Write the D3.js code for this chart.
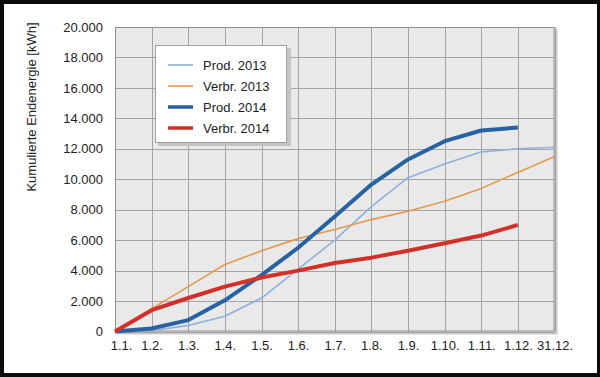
<!DOCTYPE html>
<html><head><meta charset="utf-8">
<script src="https://cdn.jsdelivr.net/npm/d3@7"></script>
<style>html,body{margin:0;padding:0;background:#000;}svg{display:block;}</style>
</head><body><svg id="c" width="600" height="377"></svg>
<script>
const categories = ["1.1.","1.2.","1.3.","1.4.","1.5.","1.6.","1.7.","1.8.","1.9.","1.10.","1.11.","1.12.","31.12."];
const prod2013  = [0, 50, 400, 1000, 2200, 4100, 6000, 8200, 10100, 11000, 11800, 12000, 12100];
const verbr2013 = [0, 1500, 2950, 4400, 5300, 6100, 6700, 7350, 7900, 8550, 9400, 10450, 11500];
const prod2014  = [0, 200, 750, 2050, 3700, 5500, 7550, 9650, 11300, 12500, 13200, 13400];
const verbr2014 = [0, 1400, 2200, 2950, 3550, 4000, 4500, 4850, 5300, 5800, 6300, 7000];
const yTicks = [0,2000,4000,6000,8000,10000,12000,14000,16000,18000,20000];
const seriesNames = ["Prod. 2013","Verbr. 2013","Prod. 2014","Verbr. 2014"];
const yTitle = "Kumulierte Endenergie [kWh]";

const series = [
  {name: seriesNames[0], values: prod2013, color: "#8fb0dc", width: 1.6},
  {name: seriesNames[1], values: verbr2013, color: "#e29a4c", width: 1.6},
  {name: seriesNames[2], values: prod2014, color: "#2762a3", width: 4},
  {name: seriesNames[3], values: verbr2014, color: "#d2302a", width: 4}
];

const svg = d3.select("#c");
const font = "'Liberation Sans', Arial, sans-serif";
svg.append("rect").attr("x",0).attr("y",0).attr("width",600).attr("height",377).attr("fill","#0c0c0c");
svg.append("rect").attr("x",4).attr("y",4).attr("width",593).attr("height",369).attr("fill","#fff");

const L = 115, R = 554.5, T = 27, B = 331.5;
const x = d3.scalePoint().domain(categories).range([L, R]);
const y = d3.scaleLinear().domain([0, 20000]).range([B, T]);

// shadow
svg.append("rect").attr("x",L+2).attr("y",T+2).attr("width",R-L+1).attr("height",B-T+1).attr("fill","#c8c8c8");
svg.append("rect").attr("x",L).attr("y",T).attr("width",R-L).attr("height",B-T).attr("fill","#e9e9e9");

// grid
const g = svg.append("g");
g.selectAll(".hg").data(yTicks).enter().append("line")
  .attr("x1",L).attr("x2",R).attr("y1",d=>Math.round(y(d))+0.5).attr("y2",d=>Math.round(y(d))+0.5)
  .attr("stroke","#a4a4a4").attr("stroke-width",1);
g.selectAll(".vg").data(categories).enter().append("line")
  .attr("y1",T).attr("y2",B).attr("x1",d=>Math.round(x(d))+0.5).attr("x2",d=>Math.round(x(d))+0.5)
  .attr("stroke","#a4a4a4").attr("stroke-width",1);
svg.append("rect").attr("x",L+0.5).attr("y",T+0.5).attr("width",R-L-1).attr("height",B-T-1)
  .attr("fill","none").attr("stroke","#909090").attr("stroke-width",1);

// axes
const yAxis = d3.axisLeft(y).tickValues(yTicks).tickSize(0).tickPadding(12)
  .tickFormat(d => d3.format(",")(d).replace(/,/g, "."));
const ya = svg.append("g").attr("transform",`translate(${L},0)`).call(yAxis);
ya.select(".domain").remove();
ya.selectAll("text").attr("font-family",font).attr("font-size",13).attr("fill","#222");

const xAxis = d3.axisBottom(x).tickSize(0).tickPadding(9);
const xa = svg.append("g").attr("transform",`translate(0,${B})`).call(xAxis);
xa.select(".domain").remove();
xa.selectAll("text").attr("font-family",font).attr("font-size",13).attr("fill","#222")
  .attr("dx",(d,i)=> i===0 ? 6 : 0);

svg.append("text").attr("transform","translate(36,107) rotate(-90)")
  .attr("text-anchor","middle").attr("font-family",font).attr("font-size",13).attr("fill","#222")
  .text(yTitle);

// lines
const line = d3.line().x((d,i)=>x(categories[i])).y(d=>y(d));
series.forEach(s => {
  svg.append("path").datum(s.values).attr("d",line).attr("fill","none")
    .attr("stroke",s.color).attr("stroke-width",s.width).attr("stroke-linejoin","round");
});

// legend
const lg = svg.append("g");
lg.append("rect").attr("x",158).attr("y",48).attr("width",133).attr("height",98).attr("fill","#c4c4c4");
lg.append("rect").attr("x",155.5).attr("y",45.5).attr("width",131).attr("height",97)
  .attr("fill","#fff").attr("stroke","#a0a0a0");
series.forEach((s,i) => {
  const yy = 65 + i*21;
  lg.append("line").attr("x1",168).attr("x2",193).attr("y1",yy).attr("y2",yy)
    .attr("stroke",s.color).attr("stroke-width",s.width===4?3.5:1.6);
  lg.append("text").attr("x",203).attr("y",yy+4.5).attr("font-family",font).attr("font-size",13)
    .attr("fill","#222").text(s.name);
});
</script></body></html>
